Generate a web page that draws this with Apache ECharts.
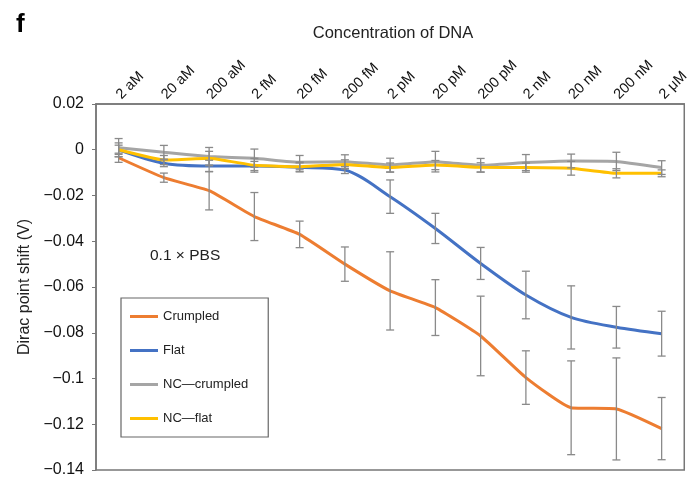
<!DOCTYPE html>
<html>
<head>
<meta charset="utf-8">
<style>
  html, body { margin: 0; padding: 0; background: #fff; }
  #chart { width: 692px; height: 479px; }
</style>
<script src="https://cdn.jsdelivr.net/npm/echarts@6/dist/echarts.min.js"></script>
</head>
<body>
<div id="chart"></div>
<script>
// DNA concentrations along the top axis
const categories = ['2 aM', '20 aM', '200 aM', '2 fM', '20 fM', '200 fM', '2 pM', '20 pM', '200 pM', '2 nM', '20 nM', '200 nM', '2 \u03bcM'];
const yTicks = [0.02, 0, -0.02, -0.04, -0.06, -0.08, -0.1, -0.12, -0.14];

// Dirac point shift (V), mean and half error-bar length per concentration
const crumpled    = [-0.0035, -0.0122, -0.0179, -0.0292, -0.0370, -0.0500, -0.0617, -0.0690, -0.0814, -0.0996, -0.1128, -0.1133, -0.1219];
const crumpledErr = [0.0020, 0.0020, 0.0084, 0.0105, 0.0058, 0.0075, 0.0171, 0.0122, 0.0174, 0.0117, 0.0205, 0.0223, 0.0136];
const flat        = [0.0000, -0.0059, -0.0071, -0.0071, -0.0077, -0.0089, -0.0205, -0.0344, -0.0497, -0.0635, -0.0733, -0.0776, -0.0804];
const flatErr     = [0.0020, 0.0015, 0.0025, 0.0020, 0.0020, 0.0015, 0.0073, 0.0066, 0.0070, 0.0104, 0.0138, 0.0091, 0.0098];
const ncCrumpled    = [0.0009, -0.0011, -0.0030, -0.0037, -0.0055, -0.0052, -0.0067, -0.0052, -0.0068, -0.0056, -0.0049, -0.0051, -0.0078];
const ncCrumpledErr = [0.0040, 0.0030, 0.0040, 0.0040, 0.0030, 0.0030, 0.0030, 0.0045, 0.0030, 0.0035, 0.0030, 0.0040, 0.0030];
const ncFlat    = [0.0000, -0.0045, -0.0037, -0.0068, -0.0074, -0.0064, -0.0078, -0.0067, -0.0077, -0.0078, -0.0081, -0.0103, -0.0103];
const ncFlatErr = [0.0030, 0.0020, 0.0030, 0.0030, 0.0020, 0.0020, 0.0020, 0.0020, 0.0020, 0.0020, 0.0030, 0.0020, 0.0015];

const FONT = '"Liberation Sans", Arial, Helvetica, sans-serif';
const minus = s => String(s).replace('-', '\u2212');

const groups = [
  { name: 'Crumpled',     color: '#ED7D31', mean: crumpled,   err: crumpledErr,   smooth: 0.15 },
  { name: 'Flat',         color: '#4472C4', mean: flat,       err: flatErr,       smooth: 0.3 },
  { name: 'NC\u2014crumpled', color: '#A5A5A5', mean: ncCrumpled, err: ncCrumpledErr, smooth: 0.1 },
  { name: 'NC\u2014flat',     color: '#FFC000', mean: ncFlat,     err: ncFlatErr,     smooth: 0.1 }
];

// vertical whisker with caps, computed through the axis scales
function errorBar(params, api) {
  const i = api.value(0);
  const hi = api.coord([i, api.value(1)]);
  const lo = api.coord([i, api.value(2)]);
  const cap = 4;
  const style = { stroke: '#8a8a8a', lineWidth: 1.3 };
  return {
    type: 'group',
    children: [
      { type: 'line', shape: { x1: hi[0], y1: hi[1], x2: lo[0], y2: lo[1] }, style },
      { type: 'line', shape: { x1: hi[0] - cap, y1: hi[1], x2: hi[0] + cap, y2: hi[1] }, style },
      { type: 'line', shape: { x1: lo[0] - cap, y1: lo[1], x2: lo[0] + cap, y2: lo[1] }, style }
    ]
  };
}

const series = [];
groups.forEach(g => {
  series.push({
    name: g.name,
    type: 'line',
    data: g.mean,
    smooth: g.smooth,
    symbol: 'none',
    lineStyle: { color: g.color, width: 3 },
    itemStyle: { color: g.color },
    z: 2
  });
});
groups.forEach(g => {
  series.push({
    type: 'custom',
    renderItem: errorBar,
    data: g.mean.map((m, i) => [i, m + g.err[i], m - g.err[i]]),
    encode: { x: 0, y: [1, 2] },
    z: 3,
    silent: true
  });
});

const chart = echarts.init(document.getElementById('chart'), null, { renderer: 'canvas' });
chart.setOption({
  animation: false,
  backgroundColor: '#fff',
  textStyle: { fontFamily: FONT },
  grid: { left: 96, right: 6, top: 104, bottom: 9, show: true, borderColor: '#777', borderWidth: 1.5 },
  title: [
    { text: 'f', left: 11, top: 7, textStyle: { fontFamily: FONT, fontSize: 26, fontWeight: 'bold', color: '#000' } },
    { text: 'Concentration of DNA', left: 388, top: 20, textAlign: 'center', textStyle: { fontFamily: FONT, fontSize: 16.5, fontWeight: 'normal', color: '#222' } }
  ],
  legend: {
    orient: 'vertical',
    left: 121, top: 298,
    data: groups.map(g => g.name),
    icon: 'rect',
    itemWidth: 28, itemHeight: 3,
    itemGap: 21,
    padding: [12, 20, 12, 9],
    borderColor: '#666', borderWidth: 1.2,
    textStyle: { fontFamily: FONT, fontSize: 13, color: '#222' }
  },
  graphic: [
    { type: 'text', left: 150, top: 248, style: { text: '0.1 \u00d7 PBS', font: '15.5px ' + FONT, fill: '#222' } }
  ],
  xAxis: {
    type: 'category',
    position: 'top',
    data: categories,
    boundaryGap: true,
    axisLine: { onZero: false, lineStyle: { color: '#777', width: 1.5 } },
    axisTick: { alignWithLabel: true, length: 4, lineStyle: { color: '#777' } },
    axisLabel: { rotate: -45, margin: 7, fontSize: 14.5, color: '#111', fontFamily: FONT, interval: 0 },
    splitLine: { show: false }
  },
  yAxis: {
    type: 'value',
    min: yTicks[yTicks.length - 1],
    max: yTicks[0],
    interval: 0.02,
    name: 'Dirac point shift (V)',
    nameLocation: 'middle',
    nameGap: 58,
    nameTextStyle: { fontFamily: FONT, fontSize: 16, color: '#222' },
    axisLine: { show: true, lineStyle: { color: '#777', width: 1.5 } },
    axisTick: { show: true, length: 4, lineStyle: { color: '#777' } },
    axisLabel: { fontSize: 16, color: '#111', fontFamily: FONT, margin: 12,
      formatter: v => minus(+v.toFixed(2)) },
    splitLine: { show: false }
  },
  series
});
</script>
</body>
</html>
